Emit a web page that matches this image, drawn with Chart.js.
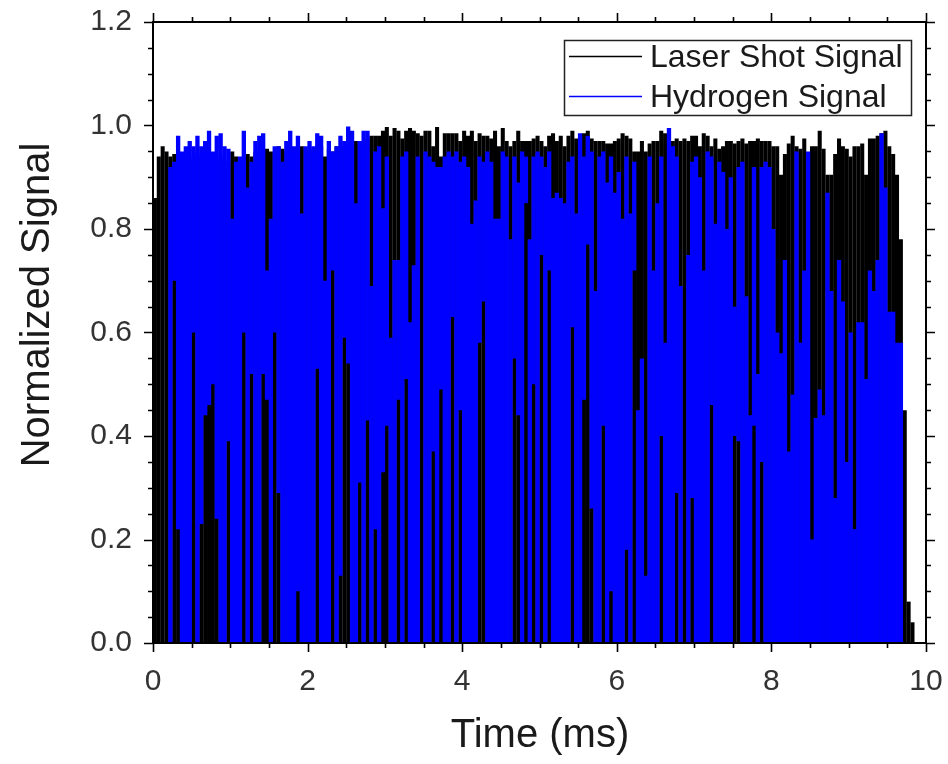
<!DOCTYPE html>
<html>
<head>
<meta charset="utf-8">
<script src="https://cdn.jsdelivr.net/npm/chart.js@4.4.1/dist/chart.umd.min.js"></script>
<style>
html,body{margin:0;padding:0;background:#fff;}
#wrap{width:948px;height:764px;}
</style>
</head>
<body>
<div id="wrap"><canvas id="c" width="948" height="764"></canvas></div>
<script>
// ---------------- data ----------------
const seriesNames = ['Laser Shot Signal', 'Hydrogen Signal'];
const seriesColors = ['#000000', '#0000ff'];
const xTitle = 'Time (ms)';
const yTitle = 'Normalized Signal';
const xTickValues = [0, 2, 4, 6, 8, 10];
const yTickValues = [0.0, 0.2, 0.4, 0.6, 0.8, 1.0, 1.2];
const binWidth = 0.05; // ms, each value below is one 0.05 ms time bin starting at 0 ms

// Laser shot signal: peak of each bin (signal spans 0 .. peak)
const laserPeak = [
  0.86,0.94,0.96,0.95,0.94,0.945,0.95,0.94,0.945,0.935,
  0.94,0.95,0.94,0.945,0.95,0.94,0.935,0.94,0.935,0.93,
  0.95,0.94,0.935,0.93,0.945,0.94,0.95,0.955,0.95,0.955,
  0.95,0.945,0.96,0.955,0.95,0.96,0.955,0.95,0.96,0.955,
  0.95,0.955,0.96,0.96,0.94,0.955,0.95,0.96,0.955,0.96,
  0.965,0.97,0.97,0.965,0.97,0.975,0.98,0.98,0.98,0.99,
  0.997,0.98,0.995,0.99,0.975,0.99,0.995,0.99,0.985,0.98,
  0.99,0.99,0.96,0.997,0.94,0.985,0.985,0.985,0.985,0.97,
  0.99,0.98,0.99,0.97,0.985,0.98,0.98,0.975,0.99,0.96,
  0.995,0.97,0.96,0.97,0.99,0.97,0.97,0.97,0.975,0.98,
  0.97,0.96,0.98,0.985,0.97,0.98,0.96,0.98,0.99,0.975,
  0.96,0.985,0.99,0.975,0.97,0.97,0.97,0.965,0.965,0.97,
  0.975,0.985,0.98,0.975,0.95,0.95,0.97,0.95,0.965,0.97,
  0.97,0.99,0.985,0.98,0.97,0.975,0.97,0.975,0.97,0.98,
  0.98,0.96,0.985,0.98,0.96,0.975,0.955,0.96,0.97,0.97,
  0.965,0.97,0.975,0.965,0.97,0.97,0.975,0.97,0.97,0.97,
  0.96,0.96,0.905,0.945,0.965,0.98,0.96,0.955,0.975,0.945,
  0.96,0.96,0.99,0.955,0.905,0.905,0.945,0.975,0.96,0.955,
  0.94,0.96,0.96,0.965,0.905,0.975,0.975,0.98,0.985,0.99,
  0.96,0.945,0.905,0.78,0.45,0.08,0.04
];

// Hydrogen signal: lower and upper edge of the blue trace in each bin (null = no blue)
const hydrogenLow = [
  null,null,null,null,0,0.70,0.22,0,0,0,
  0.60,0,0.23,0.44,0.46,0.50,0.24,0,0,0.39,
  0,0,0,0.60,0,0.52,0,0,0.52,0.47,
  0,0.60,0.29,0,0,0,0,0.10,0,0,
  0,0,0.53,0,0,0,0.72,0,0.13,0.59,
  0.54,0,0,0.31,0,0.43,0,0.22,0,0.33,
  0.42,0,0,0.47,0,0.51,0,0,0,null,
  0,0,0.37,0,0.49,0,0,0.63,0,0.45,
  0,0,0,0,0.58,0.66,0,0,0,0,
  0,0,0,0.55,0.44,0,0.85,0,0.50,0,
  0.75,0,0.72,0,0,0,0,0,0.61,0,
  0,0.47,0.77,0.26,0,0,0.42,0,0.10,0,
  0,0,0.18,0,0.72,0,0,0,0,0,
  0,0.40,0,0,0,0.29,0,null,0,0.28,
  0,0,0,0,0.46,0,0,0,0,0,
  0.40,0.39,0,0,0,0.42,0,0.35,0,0,
  0,0,0,0,0,0,0,0,0,0,
  0,0,0,0,0,0,0,0,0,0,
  0,0,0,0,0,0,0,0,0,0,
  0,0,0,0,null,null,null
];
const hydrogenHigh = [
  null,null,null,null,0.92,0.93,0.98,0.95,0.96,0.97,
  0.96,0.98,0.96,0.97,0.99,0.95,0.98,0.985,0.96,0.955,
  0.82,0.93,0.94,0.99,0.88,0.93,0.97,0.98,0.985,0.72,
  0.82,0.96,0.96,0.93,0.97,0.99,0.96,0.98,0.83,0.96,
  0.97,0.96,0.985,0.98,0.70,0.97,0.95,0.96,0.98,0.97,
  0.998,0.99,0.85,0.97,0.99,0.99,0.69,0.95,0.96,0.84,
  0.94,0.59,0.74,0.74,0.94,0.95,0.62,0.73,0.94,null,
  0.95,0.94,0.93,0.92,0.92,0.94,0.95,0.94,0.95,0.93,
  0.94,0.92,0.81,0.855,0.94,0.93,0.95,0.93,0.82,0.82,
  0.95,0.94,0.78,0.94,0.89,0.95,0.94,0.78,0.94,0.95,
  0.94,0.92,0.95,0.86,0.87,0.86,0.85,0.93,0.94,0.83,
  0.985,0.94,0.98,0.95,0.68,0.94,0.95,0.89,0.94,0.87,
  0.91,0.82,0.94,0.83,0.93,0.45,0.55,0.13,0.94,0.72,
  0.85,0.94,0.58,0.995,0.96,0.94,0.69,null,0.75,0.93,
  0.94,0.90,0.72,0.95,0.94,0.81,0.93,0.91,0.80,0.90,
  0.65,0.92,0.93,0.67,0.44,0.92,0.52,0.92,0.93,0.92,
  0.80,0.60,0.56,0.74,0.37,0.48,0.95,0.58,0.72,0.95,
  0.20,0.435,0.49,0.44,0.87,0.68,0.28,0.74,0.66,0.35,
  0.60,0.22,0.62,0.62,0.51,0.72,0.68,0.74,0.985,0.88,
  0.64,0.64,0.58,0.58,null,null,null
];

// ---------------- build datasets from the arrays ----------------
const binCenter = i => (i + 0.5) * binWidth;
const laserData = laserPeak.map((v, i) => ({ x: binCenter(i), y: [0, v] }));
const hydrogenData = hydrogenHigh.map((v, i) => ({
  x: binCenter(i),
  y: (v === null || hydrogenLow[i] === null) ? null : [hydrogenLow[i], v]
}));

const FONT = "'Liberation Sans', Arial, Helvetica, sans-serif";
const xMinorStep = 0.5, yMinorStep = 0.05;

const framePlugin = {
  id: 'frameTicks',
  afterDraw(chart) {
    const { ctx, chartArea: a, scales } = chart;
    const xs = scales.x, ys = scales.y;
    ctx.save();
    ctx.strokeStyle = '#000';
    ctx.lineWidth = 2;
    ctx.strokeRect(a.left, a.top, a.right - a.left, a.bottom - a.top);
    ctx.lineWidth = 1.6;
    const isMajor = (v, step) => Math.abs(v / step - Math.round(v / step)) < 1e-6;
    ctx.beginPath();
    for (let i = 0; i * xMinorStep <= xs.max + 1e-9; i++) {
      const v = i * xMinorStep;
      const px = Math.round(xs.getPixelForValue(v)) + 0.5;
      const len = isMajor(v, 2) ? 9 : 5;
      ctx.moveTo(px, a.bottom); ctx.lineTo(px, a.bottom + len);
      ctx.moveTo(px, a.top); ctx.lineTo(px, a.top - len);
    }
    for (let i = 0; i * yMinorStep <= ys.max + 1e-9; i++) {
      const v = i * yMinorStep;
      const py = Math.round(ys.getPixelForValue(v)) + 0.5;
      const len = isMajor(v, 0.2) ? 9 : 5;
      ctx.moveTo(a.left, py); ctx.lineTo(a.left - len, py);
      ctx.moveTo(a.right, py); ctx.lineTo(a.right + len, py);
    }
    ctx.stroke();

    // axis titles
    ctx.fillStyle = '#1a1a1a';
    ctx.font = '40px ' + FONT;
    ctx.textAlign = 'center';
    ctx.textBaseline = 'middle';
    ctx.fillText(xTitle, 540, 736);
    ctx.save();
    ctx.translate(38, 305);
    ctx.rotate(-Math.PI / 2);
    ctx.fillText(yTitle, 0, 0);
    ctx.restore();

    // legend box
    ctx.fillStyle = '#fff';
    ctx.fillRect(564, 40, 348, 75);
    ctx.strokeStyle = '#222';
    ctx.lineWidth = 1.5;
    ctx.strokeRect(564.5, 40.5, 347, 75);
    const rows = [56, 96];
    ctx.font = '32px ' + FONT;
    ctx.textBaseline = 'alphabetic';
    ctx.textAlign = 'left';
    rows.forEach((ry, i) => {
      ctx.strokeStyle = seriesColors[i];
      ctx.lineWidth = 1.5;
      ctx.beginPath();
      ctx.moveTo(569, ry + 0.5); ctx.lineTo(642, ry + 0.5);
      ctx.stroke();
      ctx.fillStyle = '#1a1a1a';
      ctx.fillText(seriesNames[i], 650, ry + 11);
    });
    ctx.restore();
  }
};

new Chart(document.getElementById('c'), {
  type: 'bar',
  data: {
    datasets: [
      {
        label: seriesNames[0], data: laserData,
        backgroundColor: seriesColors[0], borderWidth: 0,
        barPercentage: 1.05, categoryPercentage: 1, grouped: false, order: 2
      },
      {
        label: seriesNames[1], data: hydrogenData,
        backgroundColor: seriesColors[1], borderWidth: 0,
        barPercentage: 1.12, categoryPercentage: 1, grouped: false, order: 1
      }
    ]
  },
  options: {
    responsive: false,
    animation: false,
    devicePixelRatio: 1,
    events: [],
    layout: { padding: { top: 22, right: 22, left: 0, bottom: 0 } },
    plugins: { legend: { display: false }, tooltip: { enabled: false } },
    scales: {
      x: {
        type: 'linear', min: 0, max: 10, offset: false,
        grid: { display: false, drawTicks: false },
        border: { display: false },
        afterBuildTicks: s => { s.ticks = xTickValues.map(v => ({ value: v })); },
        ticks: {
          color: '#333', font: { family: FONT, size: 30 }, padding: 21,
          maxRotation: 0, autoSkip: false, callback: v => String(v)
        },
        title: { display: false },
        afterFit: s => { s.height = 121; s.paddingLeft = 0; s.paddingRight = 0; s.paddingTop = 0; s.paddingBottom = 0; }
      },
      y: {
        type: 'linear', min: 0, max: 1.2,
        grid: { display: false, drawTicks: false },
        border: { display: false },
        afterBuildTicks: s => { s.ticks = yTickValues.map(v => ({ value: v })); },
        ticks: {
          color: '#333', font: { family: FONT, size: 30 }, padding: 21,
          autoSkip: false, callback: v => Number(v).toFixed(1)
        },
        title: { display: false },
        afterFit: s => { s.width = 153; s.paddingTop = 0; s.paddingBottom = 0; s.paddingLeft = 0; s.paddingRight = 0; }
      }
    }
  },
  plugins: [framePlugin]
});
</script>
</body>
</html>
